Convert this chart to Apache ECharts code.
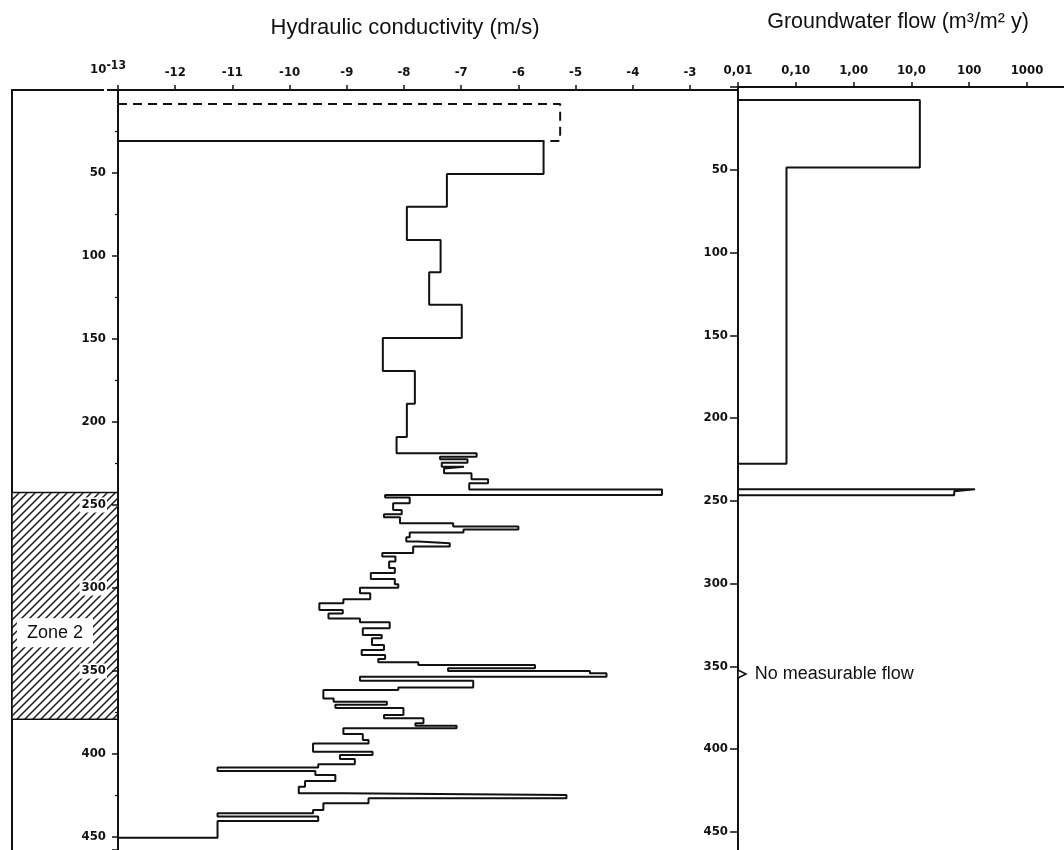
<!DOCTYPE html>
<html><head><meta charset="utf-8">
<script src="https://cdn.jsdelivr.net/npm/echarts@6/dist/echarts.min.js"></script>
<style>html,body{margin:0;padding:0;background:#fff}#c{width:1064px;height:850px}</style>
</head><body><div id="c"></div>
<script>
// ---------------- data ----------------
const titleK = 'Hydraulic conductivity (m/s)';
const titleF = 'Groundwater flow (m³/m² y)';
const depthTicks = [50, 100, 150, 200, 250, 300, 350, 400, 450];
const flowTickLabels = { '-2': '0,01', '-1': '0,10', '0': '1,00', '1': '10,0', '2': '100', '3': '1000' };

// hydraulic conductivity (log10 K) step profile: interval boundaries (m) and values
const kBounds = [30.7, 50.6, 70.3, 90.4, 109.8, 129.3, 149.4, 169.3, 189, 209, 218.9, 220.9, 222.5, 224.5, 227, 228, 230.9,
  234.5, 236.9, 240.6, 244, 245.5, 249, 253, 255.6, 257.4, 261, 263, 264.7, 266.5, 269.5, 272, 273, 275, 278.9, 281, 284,
  288, 291, 294.6, 297.8, 299.8, 303.2, 306.8, 309.2, 313.3, 315.3, 318.3, 320.7, 324.3, 328.3, 330.3, 334.3, 337.3,
  340.4, 342.8, 344.8, 346.4, 348.4, 350.0, 351.3, 353.4, 355.8, 360, 361.5, 366.5, 368.5, 370.3, 372.3, 376.5, 378.5,
  381.5, 383, 384.5, 388, 391.6, 393.6, 398.6, 400.6, 403, 406.2, 408.2, 410.2, 412.7, 416.3, 419.7, 423.7, 424.7,
  426.7, 429.7, 433.7, 435.7, 437.7, 440.4, 450.4];
const kValues = [-5.56, -7.25, -7.95, -7.36, -7.56, -6.99, -8.37, -7.81, -7.95, -8.13, -6.73, -7.37, -6.89, -7.34, -6.95,
  -7.30, -6.82, -6.53, -6.86, -3.49, -8.33, -7.90, -8.19, -8.04, -8.35, -8.07, -7.14, -6.00, -6.96, -7.90, -7.96, -7.75,
  -7.20, -7.84, -8.38, -8.15, -8.26, -8.16, -8.58, -8.16, -8.10, -8.77, -8.59, -9.06, -9.48, -9.07, -9.32, -8.77, -8.25,
  -8.72, -8.39, -8.56, -8.35, -8.74, -8.33, -8.45, -7.75, -5.71, -7.23, -4.75, -4.46, -8.77, -6.79, -8.10, -9.41, -9.23,
  -8.30, -9.20, -8.01, -8.35, -7.66, -7.80, -7.08, -9.06, -8.72, -8.62, -9.59, -8.55, -9.12, -8.86, -9.50, -11.26, -9.55,
  -9.20, -9.73, -9.84, -9.06, -5.16, -8.62, -9.41, -9.59, -11.26, -9.50, -11.26];
const kDashBounds = [8.4, 30.7];
const kDashValues = [-5.27];
const kDashEnd = -5.56;

// groundwater flow step profile (m3/m2 y)
const flowBounds = [7.9, 48.7, 227.6];
const flowValues = [14, 0.069];
const flowSpikeBounds = [243, 244.2, 246.7];
const flowSpikeValues = [126, 55];
const noFlowDepth = 354.7;
const noFlowText = 'No measurable flow';

// zone
const zoneTop = 242.5;
const zoneBottom = 379;
const zoneLabel = 'Zone 2';
const zoneLabelDepth = 327;

// ---------------- build ----------------
const K_MIN = -13, F_MIN = 0.01;
function stepPath(bounds, values, base) {
  const pts = [[base, bounds[0]]];
  for (let i = 0; i < values.length; i++) {
    pts.push([values[i], bounds[i]], [values[i], bounds[i + 1]]);
  }
  pts.push([base, bounds[bounds.length - 1]]);
  return pts;
}
const kPath = stepPath(kBounds, kValues, K_MIN);
const dashPath = stepPath(kDashBounds, kDashValues, K_MIN);
dashPath[dashPath.length - 1] = [kDashEnd, kDashBounds[kDashBounds.length - 1]];
const flowPath = stepPath(flowBounds, flowValues, F_MIN)
  .concat([null])
  .concat(stepPath(flowSpikeBounds, flowSpikeValues, F_MIN));

// hatch pattern
const hc = document.createElement('canvas');
hc.width = 8; hc.height = 8;
const g = hc.getContext('2d');
g.fillStyle = '#fff'; g.fillRect(0, 0, 8, 8);
g.strokeStyle = '#1a1a1a'; g.lineWidth = 1.5;
g.beginPath();
g.moveTo(-1, 9); g.lineTo(9, -1);
g.moveTo(-1, 1); g.lineTo(1, -1);
g.moveTo(7, 9); g.lineTo(9, 7);
g.stroke();

const INK = '#111';
const tickFont = "'DejaVu Sans Condensed', 'Liberation Sans Narrow', sans-serif";
const depthSet = new Set(depthTicks);
const depthFmt = v => depthSet.has(Math.round(v * 1000) / 1000) ? String(v) : '';

const chart = echarts.init(document.getElementById('c'), null, { renderer: 'canvas' });
chart.setOption({
  animation: false,
  backgroundColor: '#fff',
  title: [
    { text: titleK, left: 400, top: 12, textAlign: 'center',
      textStyle: { fontFamily: 'Liberation Sans', fontSize: 22, fontWeight: 'normal', color: INK } },
    { text: titleF, left: 893, top: 6, textAlign: 'center',
      textStyle: { fontFamily: 'Liberation Sans', fontSize: 21.5, fontWeight: 'normal', color: INK } }
  ],
  grid: [
    { left: 12, top: 90, width: 106, bottom: 0, outerBoundsMode: 'none', containLabel: false },
    { left: 118, top: 90, width: 620, bottom: 0, outerBoundsMode: 'none', containLabel: false },
    { left: 738, top: 87, width: 346.8, bottom: 0, outerBoundsMode: 'none', containLabel: false }
  ],
  xAxis: [
    { gridIndex: 0, type: 'value', min: 0, max: 1, position: 'top',
      axisLine: { show: true, lineStyle: { color: INK, width: 2 } },
      axisTick: { show: false }, axisLabel: { show: false }, splitLine: { show: false } },
    { gridIndex: 1, type: 'value', min: K_MIN, max: K_MIN + 620 / 57.2, interval: 1, position: 'top',
      axisLine: { show: true, lineStyle: { color: INK, width: 2 } },
      axisTick: { show: true, length: 5, lineStyle: { color: INK, width: 1.5 } },
      axisLabel: {
        show: true, margin: 11, color: INK, fontFamily: tickFont, fontWeight: 'bold', fontSize: 13,
        showMaxLabel: false,
        formatter: v => {
          if (Math.abs(v - Math.round(v)) > 1e-6 || v > -3) return '';
          if (Math.round(v) === -13) return '{a|10}{b|-13}{p|}';
          return String(Math.round(v));
        },
        rich: {
          a: { fontFamily: tickFont, fontWeight: 'bold', fontSize: 13, color: INK },
          b: { fontFamily: tickFont, fontWeight: 'bold', fontSize: 12, color: INK, padding: [0, 0, 7, 0] },
          p: { width: 20 }
        }
      },
      splitLine: { show: false } },
    { gridIndex: 2, type: 'log', logBase: 10, min: F_MIN, max: 10000, interval: 1, position: 'top',
      axisLine: { show: true, lineStyle: { color: INK, width: 2 } },
      axisTick: { show: true, length: 5, lineStyle: { color: INK, width: 1.5 } },
      axisLabel: {
        show: true, margin: 10, color: INK, fontFamily: tickFont, fontWeight: 'bold', fontSize: 13,
        formatter: v => flowTickLabels[String(Math.round(Math.log10(v)))] || ''
      },
      splitLine: { show: false } }
  ],
  yAxis: [
    { gridIndex: 0, type: 'value', inverse: true, min: 0, max: 760 / 1.66,
      axisLine: { show: true, lineStyle: { color: INK, width: 2 } },
      axisTick: { show: false }, axisLabel: { show: false }, splitLine: { show: false } },
    { gridIndex: 1, type: 'value', inverse: true, min: 0, max: 760 / 1.66, interval: 50, z: 10,
      axisLine: { show: true, lineStyle: { color: INK, width: 2 } },
      axisTick: { show: true, length: 6, lineStyle: { color: INK, width: 1.5 } },
      minorTick: { show: true, splitNumber: 2, length: 3, lineStyle: { color: INK, width: 1.2 } },
      axisLabel: { show: true, margin: 11, color: INK, fontFamily: tickFont, fontWeight: 'bold', fontSize: 13,
        backgroundColor: '#fff', padding: [1, 1, 1, 2], showMaxLabel: false, formatter: depthFmt },
      splitLine: { show: false } },
    { gridIndex: 2, type: 'value', inverse: true, min: 0, max: 763 / 1.655, interval: 50,
      axisLine: { show: true, lineStyle: { color: INK, width: 2 } },
      axisTick: { show: true, length: 8, lineStyle: { color: INK, width: 1.5 } },
      axisLabel: { show: true, margin: 10, color: INK, fontFamily: tickFont, fontWeight: 'bold', fontSize: 13,
        showMaxLabel: false, formatter: depthFmt },
      splitLine: { show: false } }
  ],
  series: [
    { type: 'line', xAxisIndex: 0, yAxisIndex: 0, data: [], silent: true,
      markArea: { silent: true,
        itemStyle: { color: { image: hc, repeat: 'repeat' }, borderColor: INK, borderWidth: 1.5, opacity: 1 },
        data: [[{ yAxis: zoneTop }, { yAxis: zoneBottom }]] } },
    { type: 'scatter', xAxisIndex: 0, yAxisIndex: 0, data: [[0.405, zoneLabelDepth]], symbolSize: 0, z: 5, silent: true,
      itemStyle: { opacity: 1 },
      label: { show: true, position: 'inside', formatter: zoneLabel, fontFamily: 'Liberation Sans', fontSize: 18,
        color: INK, opacity: 1, backgroundColor: '#fff', padding: [6, 10, 5, 10] } },
    { type: 'line', xAxisIndex: 1, yAxisIndex: 1, data: kPath, showSymbol: false, silent: true,
      lineStyle: { color: INK, width: 2 } },
    { type: 'line', xAxisIndex: 1, yAxisIndex: 1, data: dashPath, showSymbol: false, silent: true,
      lineStyle: { color: INK, width: 2, type: [9, 6] } },
    { type: 'line', xAxisIndex: 2, yAxisIndex: 2, data: flowPath, showSymbol: false, connectNulls: false, silent: true,
      lineStyle: { color: INK, width: 2 } },
    { type: 'scatter', xAxisIndex: 2, yAxisIndex: 2, data: [[F_MIN, noFlowDepth]], silent: true,
      symbol: 'triangle', symbolRotate: -90, symbolSize: 8, symbolOffset: [4, 0],
      itemStyle: { color: '#fff', borderColor: INK, borderWidth: 1.5, opacity: 1 },
      label: { show: true, position: 'right', distance: 8, formatter: noFlowText, fontFamily: 'Liberation Sans',
        fontSize: 18, color: INK, opacity: 1 } }
  ]
});
</script></body></html>
